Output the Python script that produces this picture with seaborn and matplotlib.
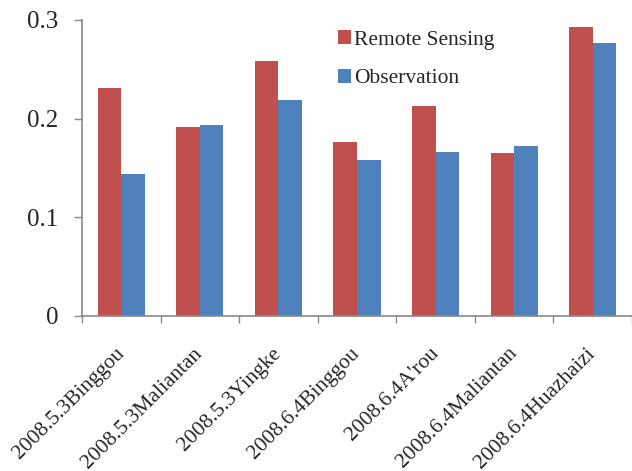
import matplotlib
matplotlib.use("Agg")
import matplotlib.pyplot as plt
import seaborn as sns
import pandas as pd
import numpy as np

sites = ["2008.5.3Binggou", "2008.5.3Maliantan", "2008.5.3Yingke", "2008.6.4Binggou",
         "2008.6.4A'rou", "2008.6.4Maliantan", "2008.6.4Huazhaizi"]
remote_sensing = [0.231, 0.192, 0.258, 0.176, 0.213, 0.165, 0.293]
observation = [0.144, 0.1935, 0.219, 0.158, 0.166, 0.172, 0.277]
series_names = ["Remote Sensing", "Observation"]
yticks = [0, 0.1, 0.2, 0.3]

sns.set_style("white")
plt.rcParams["font.family"] = ["Liberation Serif", "DejaVu Serif"]

df = pd.DataFrame({
    "site": sites * 2,
    "value": remote_sensing + observation,
    "series": [series_names[0]] * len(sites) + [series_names[1]] * len(sites),
})

fig = plt.figure(figsize=(6.32, 4.71), dpi=100)
ax = fig.add_axes([82 / 632, 1 - 316 / 471, 550 / 632, 296 / 471])

sns.barplot(data=df, x="site", y="value", hue="series",
            palette=["#C0504D", "#4F81BD"], width=0.6, ax=ax,
            saturation=1, errorbar=None, linewidth=0)

ax.set_ylim(0, 0.3)
ax.set_xlim(-0.5, len(sites) - 0.5)
ax.set_yticks(yticks)
ax.set_yticklabels([f"{t:g}" for t in yticks], fontsize=18)
ax.set_xlabel("")
ax.set_ylabel("")

ax.set_xticks(range(len(sites)))
ax.set_xticklabels(sites, rotation=45, ha="right", va="center",
                   rotation_mode="anchor", fontsize=15.5)
ax.set_xticks(np.arange(len(sites) + 1) - 0.5, minor=True)
ax.tick_params(axis="x", which="major", length=0, pad=25)
ax.tick_params(axis="x", which="minor", length=5, color="#888888", width=1, direction="out", bottom=True)
ax.tick_params(axis="y", length=6, color="#888888", width=1, direction="out", left=True, pad=11)

for s in ["top", "right"]:
    ax.spines[s].set_visible(False)
for s in ["left", "bottom"]:
    ax.spines[s].set_color("#888888")
    ax.spines[s].set_linewidth(1.2)

leg = ax.legend(loc="upper left", bbox_to_anchor=(0.45, 0.995), frameon=False,
                fontsize=15.5, handlelength=0.6, handleheight=0.6, handletextpad=0.15,
                labelspacing=0.9, borderaxespad=0)

fig.savefig("out.png", dpi=100)
